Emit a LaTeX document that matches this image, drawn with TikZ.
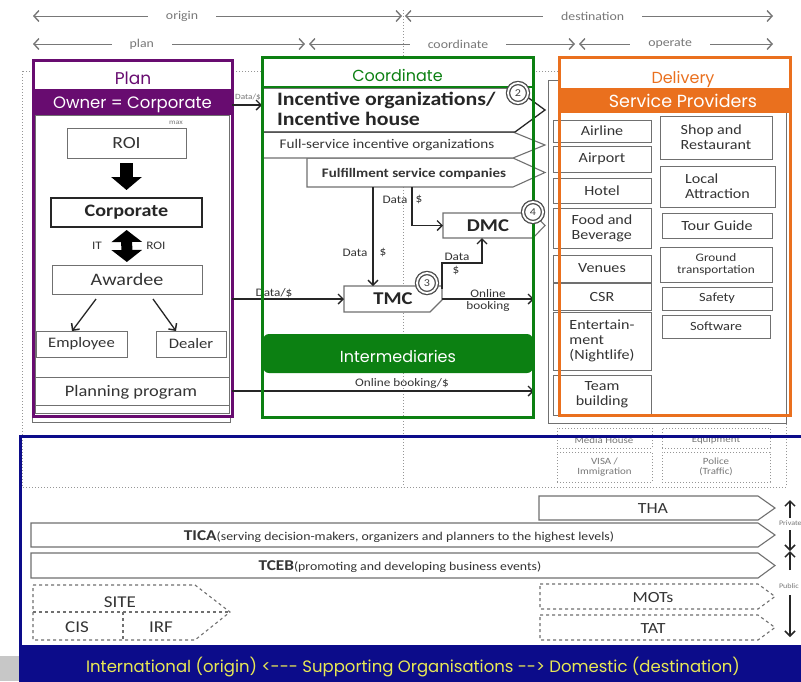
\documentclass[tikz,border=0pt]{standalone}
\usepackage{fontspec}
\setmainfont{Carlito}[FakeStretch=1.15]
\newfontfamily\headfont{Poppins}
\usetikzlibrary{arrows.meta}

\definecolor{planpurple}{RGB}{104,12,112}
\definecolor{coordgreen}{RGB}{12,128,18}
\definecolor{deliveryorange}{RGB}{234,112,30}
\definecolor{supportblue}{RGB}{12,12,138}
\definecolor{bandyellow}{RGB}{232,232,84}
\definecolor{linegray}{RGB}{112,112,112}
\definecolor{labelgray}{RGB}{52,52,52}
\definecolor{softgray}{RGB}{120,120,120}
\definecolor{dotgray}{RGB}{150,150,150}

\newcommand\fsz[2]{\fontsize{#1pt}{#2pt}\selectfont}

\begin{document}
\begin{tikzpicture}[x=1pt,y=-1pt,
  every node/.style={inner sep=0pt, outer sep=0pt},
  boxat/.style n args={4}{at={({(#1+#3)/2},{(#2+#4)/2})}, minimum width={#3-#1}, minimum height={#4-#2}},
  gbox/.style={draw=linegray, line width=1pt, fill=white, text=labelgray, align=center},
  dbox/.style={draw=dotgray, dotted, line width=1pt, text=softgray, align=center, font=\fsz{9.5}{10.5}},
  spanarrow/.style={draw=softgray, line width=1pt,
    {Straight Barb[length=5pt,width=11pt,line width=1.4pt]}-{Straight Barb[length=5pt,width=11pt,line width=1.4pt]}},
  spanlabel/.style={fill=white, inner xsep=18pt, inner ysep=3pt, text=softgray, font=\fsz{12}{12}},
  flow/.style={draw=black!85, line width=1.1pt, -{Straight Barb[length=5pt,width=10pt,line width=1.4pt]}},
  vflow/.style={draw=black!85, line width=1.2pt, -{Straight Barb[length=5pt,width=10pt,line width=1.5pt]}},
  blockdown/.style={draw=black, line width=13pt, -{Triangle[length=13pt,width=30pt]}},
  blockboth/.style={draw=black, line width=11pt, {Triangle[length=12pt,width=30pt]}-{Triangle[length=12pt,width=30pt]}},
  smalllbl/.style={text=labelgray, font=\fsz{11.5}{12}},
  chev/.style={draw=linegray, line width=1.1pt, fill=white},
  dchev/.style={draw=linegray, dashed, line width=1.1pt, fill=white},
  numring/.style={circle, draw=black!70, line width=1.3pt, double=white, double distance=1.8pt,
    fill=white, minimum size=20pt, font=\fsz{10.5}{10.5}, text=black!75}
]
\useasboundingbox (0,0) rectangle (801,681);
\clip (0,0) rectangle (801,681);
\fill[white] (0,0) rectangle (801,681);

% grey slide edge at the lower left
\fill[black!22] (0,656) rectangle (20,681);

% dotted frame and the origin/destination divide
\draw[dotgray, dotted, line width=1pt] (22,71) rectangle (786,487);
\draw[dotgray, dotted, line width=1pt] (403,10) -- (403,487);

% grey back panels
\draw[linegray, line width=1pt] (32,66) rectangle (230,422);
\draw[linegray, line width=1pt] (548,80) rectangle (786,423);

% dotted public-service boxes
\node[dbox, boxat={557}{428}{652}{448}] (media) {};
\node[text=softgray, font=\fsz{9.5}{10}] (medialbl) at (604,440) {Media House};
\node[dbox, boxat={662}{428}{770}{448}] (equip) {};
\node[text=softgray, font=\fsz{9.5}{10}] (equiplbl) at (716,440) {Equipment};
\node[dbox, boxat={557}{452}{652}{482}] (visa) {VISA /\\Immigration};
\node[dbox, boxat={662}{452}{770}{482}] (police) {Police\\(Traffic)};

% span arrows along the top
\coordinate (originL) at (33,16);  \coordinate (originR) at (402,16);
\coordinate (destL) at (405,16);   \coordinate (destR) at (773,16);
\coordinate (planL) at (33,44);    \coordinate (planR) at (305,44);
\coordinate (coordL) at (309,44);  \coordinate (coordR) at (575,44);
\coordinate (operL) at (579,44);   \coordinate (operR) at (773,44);
\draw[spanarrow] (originL) -- node[spanlabel, pos=0.404] (originlbl) {origin} (originR);
\draw[spanarrow] (destL) -- node[spanlabel, pos=0.51] (destlbl) {destination} (destR);
\draw[spanarrow] (planL) -- node[spanlabel, pos=0.40] (planlbl) {plan} (planR);
\draw[spanarrow] (coordL) -- node[spanlabel, pos=0.56] (coordlbl) {coordinate} (coordR);
\draw[spanarrow] (operL) -- node[spanlabel, pos=0.47] (operlbl) {operate} (operR);

% ---------------- Plan ----------------
\node[fill=white, boxat={33}{60}{232}{416}] (plan) {};
\draw[linegray, line width=1pt] (35,115) rectangle (229,413);
\node[fill=planpurple, boxat={33}{89}{232}{115}] (owner) {};
\node[text=white, font=\headfont\fsz{16.5}{17}, anchor=base] (ownertext) at (132.5,108) {Owner = Corporate};
\node[text=planpurple, font=\headfont\fsz{17}{17}, anchor=base] (plantitle) at (133,84) {Plan};
\node[text=softgray, font=\fsz{7}{7}] (maxlbl) at (176,123) {max};
\node[gbox, boxat={67}{128}{186}{158}, font=\fsz{17}{17}] (roi) {ROI};
\node[gbox, draw=black!85, line width=2pt, boxat={51}{198}{202}{227}, font=\bfseries\fsz{17.5}{18}, text=black!85] (corp) {Corporate};
\node[gbox, boxat={52}{265}{202}{294}, font=\fsz{17.5}{18}] (awardee) {Awardee};
\node[gbox, boxat={36}{331}{127}{357}, font=\fsz{14.5}{15}] (employee) {Employee};
\node[gbox, boxat={156}{331}{226}{357}, font=\fsz{14.5}{15}] (dealer) {Dealer};
\draw[blockdown, shorten <=5pt, shorten >=8pt] (roi) -- (corp);
\draw[blockboth, shorten <=3pt, shorten >=3pt] (corp) -- (awardee);
\node[smalllbl] (itlbl) at (97,246) {IT};
\node[smalllbl] (roilbl) at (156,246) {ROI};
\coordinate (awL) at (96,299);  \coordinate (awR) at (153,299);
\draw[draw=black!85, line width=1.3pt, -{Straight Barb[length=5pt,width=10pt,line width=1.5pt]}] (awL) -- (employee.north -| 72,0);
\draw[draw=black!85, line width=1.3pt, -{Straight Barb[length=5pt,width=10pt,line width=1.5pt]}] (awR) -- (dealer.north -| 176,0);
\draw[linegray, line width=1pt] (35,377) -- (229,377);
\draw[linegray, line width=1pt] (35,405) -- (229,405);
\node[text=labelgray, font=\fsz{16}{16}] (planprog) at (131,392) {Planning program};
\draw[planpurple, line width=3pt] (plan.north west) rectangle (plan.south east);

% ---------------- Coordinate ----------------
\node[fill=white, boxat={262}{57}{533}{87}] (coordtitlebg) {};
\node[text=coordgreen, font=\headfont\fsz{16}{16}, anchor=base] (coordtitle) at (397.5,81) {Coordinate};

\draw[chev] (307,158) -- (513,158) -- (545,172.5) -- (513,187) -- (307,187) -- cycle;
\draw[chev] (262,132) -- (513,132) -- (545,145) -- (513,158) -- (262,158) -- cycle;
\draw[chev, draw=black!85, line width=1.3pt] (262,88) -- (515,88) -- (545,110) -- (515,132) -- (262,132) -- cycle;
\node[text=black!85, font=\bfseries\fsz{19}{20.5}, align=left, anchor=west] (incentive) at (277,109) {Incentive organizations/\\Incentive house};
\node[text=labelgray, font=\fsz{13.2}{14}] (fullsvc) at (387,145) {Full-service incentive organizations};
\node[text=labelgray, font=\bfseries\fsz{13}{13}] (fulfil) at (414,174) {Fulfillment service companies};

\draw[chev] (443,213) -- (533,213) -- (545,225.5) -- (533,238) -- (443,238) -- cycle;
\node[boxat={443}{213}{533}{238}, font=\bfseries\fsz{18}{18}, text=black!85] (dmc) {DMC};
\draw[chev] (344,286) -- (442,286) -- (442,300) -- (430,312) -- (344,312) -- cycle;
\node[boxat={344}{286}{442}{312}, font=\bfseries\fsz{18}{18}, text=black!85] (tmc) {TMC};

\coordinate (fulA) at (373,187);
\coordinate (fulB) at (412,187);
\draw[flow] (fulA) -- (fulA |- tmc.north);
\draw[flow] (fulB) |- (dmc.west);
\node[smalllbl] (data1) at (355,253) {Data};
\node[smalllbl] (usd1) at (383,253) {\$};
\node[smalllbl] (data2) at (395,200) {Data};
\node[smalllbl] (usd2) at (419,200) {\$};

\coordinate (tmcOut) at (442,289);
\coordinate (tmcBend) at (442,263);
\coordinate (dmcIn) at (482,238);
\draw[flow] (tmcOut) -- (tmcBend) -| (dmcIn);
\node[smalllbl] (data3) at (457,257) {Data};
\node[smalllbl] (usd3) at (456,270) {\$};

\coordinate (planData) at (232,299);
\draw[flow] (planData) -- (tmc.west);
\node[smalllbl] (data4) at (274,293) {Data/\$};
\coordinate (bookEnd) at (534,299);
\draw[flow] (tmc.east) -- (bookEnd);
\node[smalllbl] (online1) at (488,294) {Online};
\node[smalllbl] (online2) at (488,306) {booking};

\coordinate (planBook) at (232,391);
\coordinate (bookEnd2) at (534,391);
\draw[flow] (planBook) -- (bookEnd2);
\node[smalllbl] (online3) at (402,383) {Online booking/\$};

\coordinate (ownerOut) at (232,105);
\coordinate (coordIn) at (262,105);
\node[text=softgray, font=\fsz{8}{8}] (data5) at (248,97) {Data/\$};
\draw[flow] (ownerOut) -- (coordIn);

\node[fill=coordgreen, rounded corners=6pt, boxat={263}{334}{533}{373}] (interm) {};
\node[text=white, font=\headfont\fsz{16}{16}, anchor=base] (intermtext) at (398,362) {Intermediaries};
\draw[coordgreen, line width=2pt] (262,87) -- (533,87);
\draw[coordgreen, line width=3pt] (262,57) rectangle (533,417);

% numbered markers sit above the frame
\node[numring] (n2) at (518,93) {2};
\node[numring] (n3) at (427,283) {3};
\node[numring] (n4) at (533,212) {4};

% ---------------- Delivery ----------------
\node[fill=white, boxat={559}{57}{790}{88}] (deltitlebg) {};
\node[text=deliveryorange, font=\headfont\fsz{16}{16}, anchor=base] (deltitle) at (683,83) {Delivery};
\node[fill=deliveryorange, boxat={559}{88}{790}{113}] (svcband) {};
\node[text=white, font=\headfont\fsz{17.5}{18}, anchor=base] (svctitle) at (683,107) {Service Providers};

\node[gbox, boxat={553}{120}{651}{142}, font=\fsz{14}{15}] (airline) {Airline};
\node[gbox, boxat={553}{146}{651}{172}, font=\fsz{14}{15}] (airport) {Airport};
\node[gbox, boxat={553}{178}{651}{203}, font=\fsz{14}{15}] (hotel) {Hotel};
\node[gbox, boxat={553}{208}{651}{248}, font=\fsz{14}{15}, align=left] (food) {Food and\\Beverage};
\node[gbox, boxat={553}{255}{651}{282}, font=\fsz{14}{15}] (venues) {Venues};
\node[gbox, boxat={553}{283}{651}{310}, font=\fsz{14}{15}] (csr) {CSR};
\node[gbox, boxat={553}{312}{651}{370}, font=\fsz{14}{15}, align=left] (entertain) {Entertain-\\ment\\(Nightlife)};
\node[gbox, boxat={553}{375}{651}{415}, font=\fsz{14}{15}] (team) {Team\\building};

\node[gbox, boxat={660}{116}{772}{159}, font=\fsz{14}{15}, align=left] (shop) {Shop and\\Restaurant};
\node[gbox, boxat={660}{166}{775}{207}, font=\fsz{14}{15}, align=left] (local) {Local\\Attraction};
\node[gbox, boxat={662}{213}{772}{238}, font=\fsz{14}{15}] (tour) {Tour Guide};
\node[gbox, boxat={660}{247}{772}{282}, font=\fsz{11.5}{12}] (ground) {Ground\\transportation};
\node[gbox, boxat={662}{287}{772}{310}, font=\fsz{12.5}{13}] (safety) {Safety};
\node[gbox, boxat={662}{315}{770}{338}, font=\fsz{12.5}{13}] (software) {Software};

\draw[deliveryorange, line width=3pt] (559,57) rectangle (790,415);

% ---------------- Supporting organisations ----------------
\draw[chev] (539,496) -- (758,496) -- (775,508) -- (758,520) -- (539,520) -- cycle;
\node[text=labelgray, font=\fsz{15.5}{16}, anchor=base] (tha) at (653,513) {THA};
\draw[chev] (31,523) -- (758,523) -- (775,535) -- (758,547) -- (31,547) -- cycle;
\node[text=labelgray, font=\fsz{12}{12}, anchor=base] (tica) at (399,540) {{\bfseries\fsz{15}{15}TICA}(serving decision-makers, organizers and planners to the highest levels)};
\draw[chev] (31,553) -- (758,553) -- (775,565.5) -- (758,578) -- (31,578) -- cycle;
\node[text=labelgray, font=\fsz{12}{12}, anchor=base] (tceb) at (400,570) {{\bfseries\fsz{15}{15}TCEB}(promoting and developing business events)};

\draw[dchev] (540,584) -- (758,584) -- (775,596.5) -- (758,609) -- (540,609) -- cycle;
\node[text=labelgray, font=\fsz{15.5}{16}, anchor=base] (mots) at (653,602) {MOTs};
\draw[dchev] (540,615) -- (758,615) -- (775,627.5) -- (758,640) -- (540,640) -- cycle;
\node[text=labelgray, font=\fsz{15.5}{16}, anchor=base] (tat) at (653,633) {TAT};

\draw[dchev] (33,585) -- (195,585) -- (230,612) -- (195,640) -- (33,640) -- cycle;
\draw[linegray, dashed, line width=1.1pt] (33,612) -- (230,612);
\draw[linegray, dashed, line width=1.1pt] (123,612) -- (123,640);
\node[text=labelgray, font=\fsz{16.5}{17}] (site) at (120,602) {SITE};
\node[text=labelgray, font=\fsz{16.5}{17}] (cis) at (77,627) {CIS};
\node[text=labelgray, font=\fsz{16.5}{17}] (irf) at (161,627) {IRF};

% private / public scale
\coordinate (pv0) at (790,500); \coordinate (pv1) at (790,518);
\coordinate (pv2) at (790,530); \coordinate (pv3) at (790,551);
\coordinate (pb0) at (790,570); \coordinate (pb1) at (790,595);
\coordinate (pb2) at (790,637);
\draw[vflow] (pv1) -- (pv0);
\draw[vflow] (pv2) -- (pv3);
\draw[vflow] (pb0) -- (pv3);
\draw[vflow] (pb1) -- (pb2);
\node[text=softgray, font=\fsz{7}{7}, anchor=west] (privlbl) at (779,523) {Private};
\node[text=softgray, font=\fsz{7}{7}, anchor=west] (publbl) at (779,586) {Public};

\node[fill=supportblue, boxat={20}{645}{803}{683}] (supportband) {};
\node[text=bandyellow, font=\headfont\fsz{16.5}{17}] (supporttext) at (413,667) {International (origin) <--- Supporting Organisations --> Domestic (destination)};
\draw[supportblue, line width=3pt] (20,436) rectangle (805,685);
\end{tikzpicture}
\end{document}
